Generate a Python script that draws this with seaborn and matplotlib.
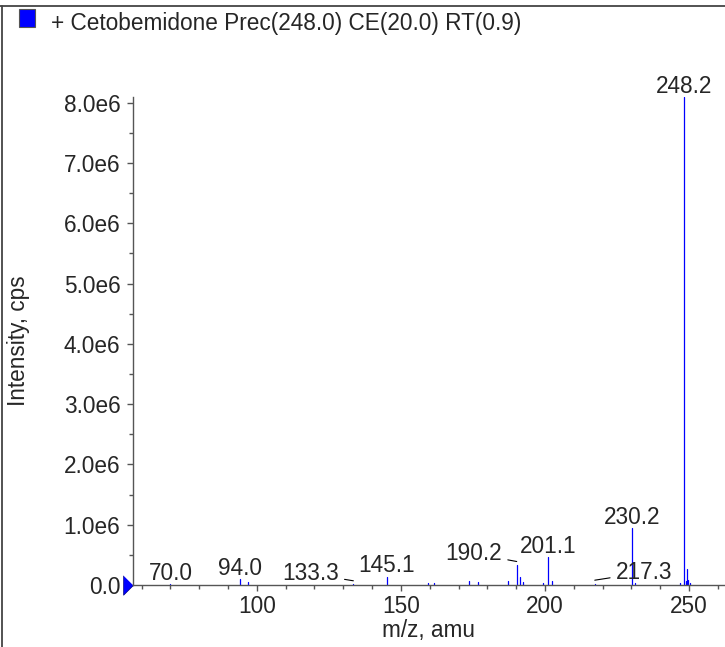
import pandas as pd
import seaborn as sns
import matplotlib.pyplot as plt
from matplotlib.lines import Line2D
from matplotlib.patches import Rectangle
from matplotlib.ticker import MultipleLocator, FuncFormatter
from matplotlib.transforms import offset_copy

# stick spectrum (m/z, intensity in cps)
mz = [70.0, 94.0, 97.1, 133.3, 145.1, 159.5, 161.6, 173.6, 176.8, 187.2,
      190.2, 191.2, 192.4, 199.4, 201.1, 202.5, 217.3, 230.2, 231.2, 246.8,
      248.2, 248.9, 249.2, 249.7, 250.2]
intensity = [0.02e6, 0.10e6, 0.05e6, 0.01e6, 0.14e6, 0.03e6, 0.03e6, 0.07e6, 0.05e6, 0.06e6,
             0.33e6, 0.13e6, 0.05e6, 0.03e6, 0.47e6, 0.07e6, 0.01e6, 0.95e6, 0.03e6, 0.03e6,
             8.10e6, 0.06e6, 0.27e6, 0.08e6, 0.03e6]

# labelled peaks
label_mz = [70.0, 94.0, 133.3, 145.1, 190.2, 201.1, 217.3, 230.2, 248.2]
label_text = ["70.0", "94.0", "133.3", "145.1", "190.2", "201.1", "217.3", "230.2", "248.2"]

title = "+ Cetobemidone Prec(248.0) CE(20.0) RT(0.9)"

rows = []
for i, (m, h) in enumerate(zip(mz, intensity)):
    rows.append({"peak": i, "mz": m, "intensity": 0.0})
    rows.append({"peak": i, "mz": m, "intensity": h})
df = pd.DataFrame(rows)

sns.set_theme(style="ticks")
plt.rcParams['font.family'] = ['Liberation Sans', 'DejaVu Sans']
FS = 16.3

fig = plt.figure(figsize=(7.25, 6.47), dpi=100)
ax = fig.add_axes([0.1834, 0.0958, 0.8166, 0.7547])

sns.lineplot(data=df, x="mz", y="intensity", units="peak", estimator=None,
             color="#0000ff", lw=0.9, ax=ax, legend=False)

ax.set_xlim(57, 262.5)
ax.set_ylim(0, 8.1e6)

ax.xaxis.set_major_locator(MultipleLocator(50))
ax.xaxis.set_minor_locator(MultipleLocator(10))
ax.yaxis.set_major_locator(MultipleLocator(1e6))
ax.yaxis.set_minor_locator(MultipleLocator(0.5e6))
ax.yaxis.set_major_formatter(FuncFormatter(lambda v, p: "0.0" if v == 0 else f"{v/1e6:.1f}e6"))

for s in ["top", "right"]:
    ax.spines[s].set_visible(False)
for s in ["left", "bottom"]:
    ax.spines[s].set_color("#555555")
    ax.spines[s].set_linewidth(1.0)

ax.tick_params(axis="x", which="major", length=4, width=1, color="#555555", pad=3, labelsize=FS)
ax.tick_params(axis="x", which="minor", length=3, width=1, color="#555555")
ax.tick_params(axis="y", which="major", length=4.5, width=1, color="#555555", pad=4.5, labelsize=FS)
ax.tick_params(axis="y", which="minor", length=3, width=1, color="#555555")

ax.set_xlabel("m/z, amu", fontsize=FS)
ax.set_ylabel("Intensity, cps", fontsize=FS)
ax.xaxis.set_label_coords(0.5, -0.07)
ax.yaxis.set_label_coords(-0.174, 0.5)

# peak labels
leaders = {133.3: (118.5, 0.08e6, 133.5, 0.07e6),
           190.2: (175.2, 0.415e6, 190.2, 0.39e6),
           217.3: (234.5, 0.10e6, 217.3, 0.08e6)}
for m, t in zip(label_mz, label_text):
    if m in leaders:
        tx, ty, px, py = leaders[m]
        ax.annotate(t, xy=(px, py), xytext=(tx, ty), textcoords="data",
                    ha="center", va="baseline", fontsize=FS,
                    arrowprops=dict(arrowstyle="-", lw=0.8, color="black",
                                    shrinkA=2, shrinkB=0))
    else:
        h = intensity[mz.index(m)]
        ax.annotate(t, xy=(m, h), xytext=(0, 3), textcoords="offset points",
                    ha="center", va="baseline", fontsize=FS, annotation_clip=False)

# blue marker at the zero level on the y axis
tri = [(-0.5, 1), (-0.5, -1), (0.5, 0)]
ax.plot([57], [0], marker=tri, ms=14, color="#0000ff", mec="#000080", mew=0.5,
        clip_on=False, transform=offset_copy(ax.transData, fig=fig, x=-5, y=0, units="dots"))

# header with colour key
fig.add_artist(Rectangle((19 / 725, 1 - 27 / 647), 16 / 725, 18 / 647, transform=fig.transFigure,
                         facecolor="#0000ff", edgecolor="#555555", lw=0.8))
fig.text(51 / 725, 1 - 30 / 647, title, fontsize=FS, ha="left", va="baseline")

# panel frame
fig.add_artist(Line2D([0, 1], [1 - 5.5 / 647] * 2, transform=fig.transFigure, color="#444444", lw=1.3))
fig.add_artist(Line2D([1.5 / 725] * 2, [0, 1 - 5.5 / 647], transform=fig.transFigure, color="#444444", lw=1.3))

fig.savefig("out.png", dpi=100)
